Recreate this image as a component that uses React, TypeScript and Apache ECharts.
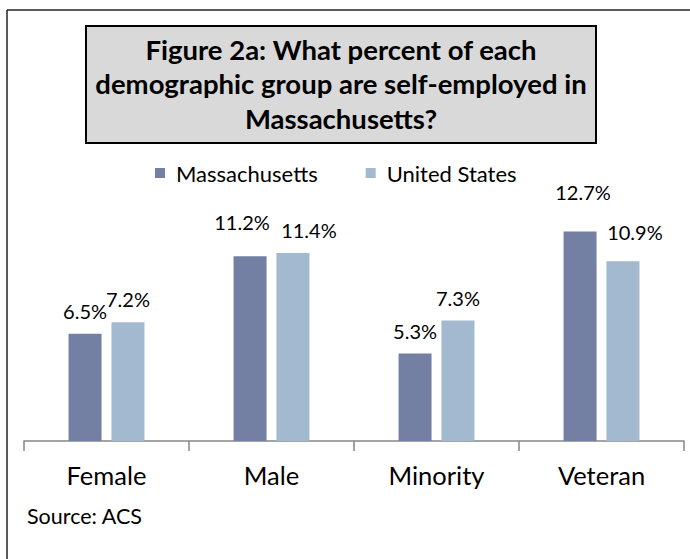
import React, { useEffect, useRef } from "react";
import * as echarts from "echarts";

const categories = ["Female", "Male", "Minority", "Veteran"];
const seriesNames = ["Massachusetts", "United States"];
const massachusetts = [6.5, 11.2, 5.3, 12.7];
const unitedStates = [7.2, 11.4, 7.3, 10.9];
const titleText = "Figure 2a: What percent of each\ndemographic group are self-employed in\nMassachusetts?";
const sourceText = "Source: ACS";

const FONT = "Lato";

export default function App() {
  const ref = useRef<HTMLDivElement>(null);
  useEffect(() => {
    if (!ref.current) return;
    const chart = echarts.init(ref.current, null, { renderer: "svg" });
    const maOffsets: [number, number][] = [[0, 0], [-8, -11], [0, 0], [3, -16]];
    const usOffsets: [number, number][] = [[0, 0], [16, 0], [0, 0], [12, -6]];
    const mkData = (vals: number[], offs: [number, number][]) =>
      vals.map((v, i) => ({ value: v, label: { offset: offs[i] } }));
    const labelBase = {
      show: true,
      position: "top",
      distance: 13,
      fontFamily: FONT,
      fontSize: 20,
      color: "#000",
      formatter: (p: any) => p.value.toFixed(1) + "%",
    };
    chart.setOption({
      animation: false,
      backgroundColor: "#fff",
      title: {
        text: titleText,
        left: 341,
        top: 32,
        textAlign: "center",
        padding: 0,
        textStyle: {
          fontFamily: FONT,
          fontWeight: "bold",
          fontSize: 27.5,
          lineHeight: 34.5,
          color: "#000",
        },
      },
      legend: {
        data: seriesNames,
        left: 155,
        top: 162,
        padding: 0,
        icon: "rect",
        itemWidth: 10,
        itemHeight: 10,
        itemGap: 48,
        textStyle: {
          fontFamily: FONT,
          fontSize: 22,
          color: "#000",
          padding: [0, 0, 0, 6],
        },
      },
      grid: { left: 24, right: 6, top: 210, bottom: 118 },
      xAxis: {
        type: "category",
        data: categories,
        axisLine: { lineStyle: { color: "#868686", width: 1.5 } },
        axisTick: { show: true, length: 10, lineStyle: { color: "#868686", width: 1.5 } },
        axisLabel: { fontFamily: FONT, fontSize: 25.5, color: "#000", margin: 21 },
      },
      yAxis: { type: "value", min: 0, max: 14, show: false, splitLine: { show: false } },
      series: [
        {
          name: seriesNames[0],
          type: "bar",
          data: mkData(massachusetts, maOffsets),
          barWidth: 33,
          barGap: "30%",
          itemStyle: { color: "#737fa3" },
          label: labelBase,
        },
        {
          name: seriesNames[1],
          type: "bar",
          data: mkData(unitedStates, usOffsets),
          barWidth: 33,
          itemStyle: { color: "#a3b9d0" },
          label: labelBase,
        },
      ],
      graphic: [
        {
          type: "line",
          shape: { x1: 7, y1: 10, x2: 700, y2: 10 },
          style: { stroke: "#222", lineWidth: 1.5 },
          z: 100,
        },
        {
          type: "line",
          shape: { x1: 7, y1: 10, x2: 7, y2: 600 },
          style: { stroke: "#222", lineWidth: 1.5 },
          z: 100,
        },
        {
          type: "rect",
          shape: { x: 86, y: 26, width: 510, height: 117 },
          style: { fill: "#d9d9d9", stroke: "#000", lineWidth: 2 },
          z: -1,
          silent: true,
        },
        {
          type: "text",
          left: 27,
          top: 505,
          style: { text: sourceText, fontFamily: FONT, fontSize: 21.5, fill: "#000" },
        },
      ],
    });
    return () => chart.dispose();
  }, []);
  return <div ref={ref} style={{ width: 690, height: 559, position: "absolute", left: 0, top: 0 }} />;
}
